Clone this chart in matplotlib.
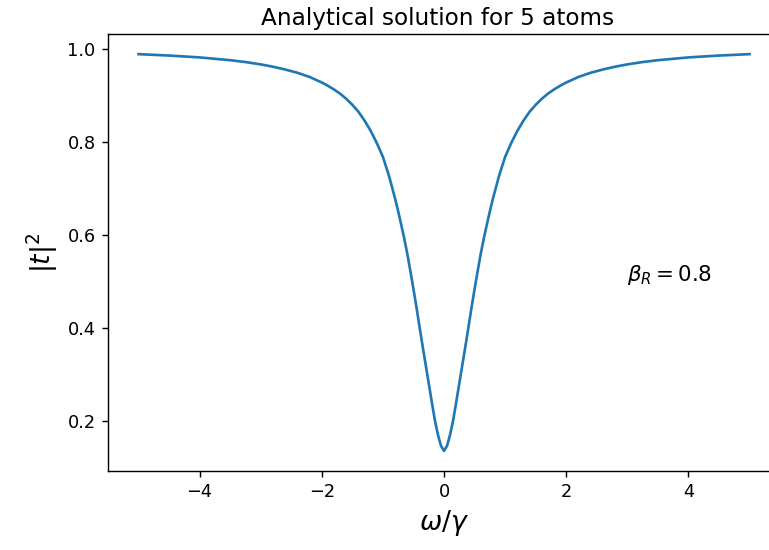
import numpy as np
import matplotlib
matplotlib.use('Agg')
import matplotlib.pyplot as plt

# transmission |t|^2 versus detuning omega/gamma
omega = [-5.0, -4.5, -4.0, -3.75, -3.5, -3.25, -3.0, -2.8, -2.6, -2.4, -2.2, -2.0,
         -1.9, -1.8, -1.7, -1.6, -1.5, -1.4, -1.3, -1.2, -1.1, -1.0,
         -0.9, -0.8, -0.75, -0.7, -0.65, -0.6, -0.55, -0.5, -0.45, -0.4, -0.35, -0.3, -0.25,
         -0.2, -0.15, -0.1, -0.05, 0.0, 0.05, 0.1, 0.15, 0.2,
         0.25, 0.3, 0.35, 0.4, 0.45, 0.5, 0.55, 0.6, 0.65, 0.7, 0.75, 0.8, 0.9,
         1.0, 1.1, 1.2, 1.3, 1.4, 1.5, 1.6, 1.7, 1.8, 1.9,
         2.0, 2.2, 2.4, 2.6, 2.8, 3.0, 3.25, 3.5, 3.75, 4.0, 4.5, 5.0]
trans = [0.988, 0.985, 0.981, 0.978, 0.975, 0.971, 0.966, 0.961, 0.955, 0.948, 0.939, 0.927,
         0.920, 0.912, 0.903, 0.892, 0.879, 0.864, 0.845, 0.823, 0.797, 0.767,
         0.726, 0.677, 0.650, 0.621, 0.591, 0.558, 0.521, 0.483, 0.443, 0.401, 0.360, 0.320, 0.280,
         0.240, 0.201, 0.170, 0.146, 0.135, 0.146, 0.170, 0.201, 0.240,
         0.280, 0.320, 0.360, 0.401, 0.443, 0.483, 0.521, 0.558, 0.591, 0.621, 0.650, 0.677, 0.726,
         0.767, 0.797, 0.823, 0.845, 0.864, 0.879, 0.892, 0.903, 0.912, 0.920,
         0.927, 0.939, 0.948, 0.955, 0.961, 0.966, 0.971, 0.975, 0.978, 0.981, 0.985, 0.988]

fig = plt.figure(figsize=(769/128, 550/128), dpi=128)
ax = fig.add_axes([0.1404, 0.1442, 0.874, 0.7934])

ax.plot(omega, trans)
ax.text(3, 0.5, r'$\beta_R = 0.8$', fontsize=12)
ax.set_title('Analytical solution for 5 atoms', fontsize=13, x=0.49, pad=5)
ax.set_xlabel(r'$\omega/\gamma$', fontsize=15)
ax.set_ylabel(r'$|t|^2$', fontsize=15)
# right edge of the frame falls outside the saved image
ax.spines['right'].set_visible(False)

fig.savefig('out.png', dpi=128)
